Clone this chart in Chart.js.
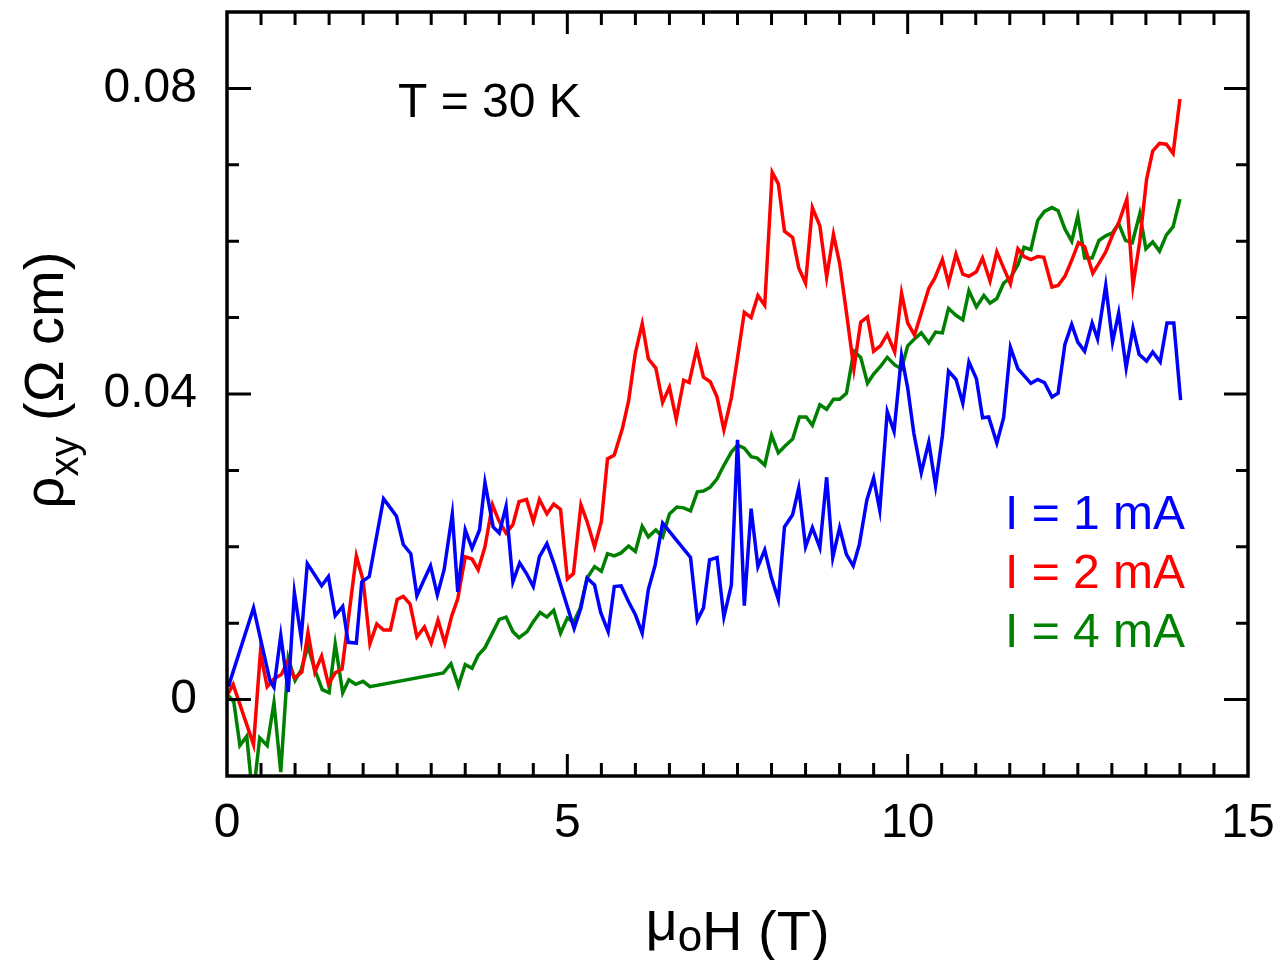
<!DOCTYPE html>
<html lang="es">
<head>
<meta charset="utf-8">
<title>rho_xy vs campo</title>
<script src="https://cdn.jsdelivr.net/npm/chart.js@4.4.1/dist/chart.umd.min.js"></script>
<style>
  html, body { margin: 0; padding: 0; background: #fff; }
  canvas { display: block; }
</style>
</head>
<body>
<canvas id="canvas" width="1281" height="960"></canvas>
<script>
// Campo (T) y resistividad Hall (Ohm cm) para cada corriente
const campo1mA = [0.02, 0.39, 0.63, 0.69, 0.79, 0.9, 0.99, 1.09, 1.18, 1.29, 1.39, 1.49, 1.59, 1.7, 1.78, 1.9, 1.98, 2.09, 2.18, 2.3,
  2.4, 2.49, 2.59, 2.7, 2.79, 2.89, 2.99, 3.09, 3.19, 3.31, 3.39, 3.5, 3.6, 3.71, 3.79, 3.91, 4.0, 4.1, 4.2, 4.3,
  4.4, 4.5, 4.59, 4.7, 4.8, 5.1, 5.2, 5.29, 5.4, 5.49, 5.6, 5.69, 5.79, 5.9, 6.0, 6.1, 6.19, 6.29, 6.4, 6.81,
  6.91, 7.0, 7.09, 7.2, 7.3, 7.41, 7.5, 7.6, 7.7, 7.8, 7.9, 8.0, 8.1, 8.19, 8.31, 8.4, 8.5, 8.6, 8.71, 8.81,
  8.9, 9.0, 9.1, 9.2, 9.29, 9.4, 9.5, 9.59, 9.7, 9.8, 9.91, 10.0, 10.09, 10.2, 10.31, 10.41, 10.51, 10.6, 10.71, 10.81,
  10.9, 11.01, 11.1, 11.19, 11.31, 11.41, 11.51, 11.62, 11.71, 11.81, 11.91, 12.01, 12.12, 12.21, 12.31, 12.41, 12.5, 12.6, 12.71, 12.79,
  12.91, 13.01, 13.1, 13.21, 13.31, 13.4, 13.51, 13.6, 13.71, 13.81, 13.91, 14.01];
const rho1mA = [0.0017, 0.012, 0.0025, 0.0016, 0.0084, 0.001, 0.014, 0.0081, 0.0178, 0.0163, 0.0149, 0.0161, 0.011, 0.0122, 0.0075, 0.0074, 0.0154, 0.0161, 0.0205, 0.0263,
  0.0251, 0.024, 0.0203, 0.0191, 0.0136, 0.0156, 0.0175, 0.0137, 0.017, 0.0243, 0.0141, 0.0222, 0.0198, 0.0222, 0.0284, 0.0226, 0.0218, 0.0253, 0.0154, 0.0179,
  0.0165, 0.0148, 0.0187, 0.0204, 0.0179, 0.0093, 0.012, 0.0159, 0.015, 0.0114, 0.0089, 0.0148, 0.0149, 0.0128, 0.0111, 0.0087, 0.0144, 0.0176, 0.0231, 0.0186,
  0.0104, 0.012, 0.0183, 0.0186, 0.0108, 0.015, 0.034, 0.0123, 0.025, 0.0174, 0.0196, 0.0159, 0.0131, 0.0226, 0.0242, 0.0277, 0.02, 0.0225, 0.0199, 0.0291,
  0.0186, 0.0225, 0.019, 0.0175, 0.0203, 0.0261, 0.029, 0.0248, 0.0377, 0.0351, 0.045, 0.0408, 0.0349, 0.0297, 0.0337, 0.028, 0.0345, 0.043, 0.0419, 0.0388,
  0.0442, 0.042, 0.0369, 0.037, 0.0336, 0.0369, 0.0461, 0.0433, 0.0424, 0.0414, 0.0419, 0.0415, 0.0396, 0.0401, 0.0465, 0.0491, 0.0468, 0.0456, 0.0493, 0.0472,
  0.0542, 0.0468, 0.0506, 0.0434, 0.0486, 0.0452, 0.0443, 0.0455, 0.0442, 0.0493, 0.0493, 0.0392];

const campo2mA = [0.0, 0.09, 0.39, 0.49, 0.59, 0.69, 0.8, 0.89, 0.99, 1.1, 1.19, 1.29, 1.39, 1.49, 1.59, 1.69, 1.9, 2.0, 2.1, 2.2,
  2.3, 2.4, 2.5, 2.59, 2.69, 2.79, 2.9, 3.0, 3.1, 3.2, 3.3, 3.39, 3.5, 3.6, 3.69, 3.79, 3.9, 3.99, 4.1, 4.2,
  4.29, 4.4, 4.5, 4.59, 4.7, 4.8, 4.9, 5.0, 5.09, 5.2, 5.29, 5.4, 5.5, 5.59, 5.69, 5.81, 5.9, 6.0, 6.1, 6.19,
  6.3, 6.4, 6.5, 6.6, 6.71, 6.79, 6.9, 7.0, 7.1, 7.2, 7.3, 7.41, 7.5, 7.6, 7.7, 7.8, 7.9, 8.01, 8.1, 8.19,
  8.31, 8.4, 8.5, 8.6, 8.71, 8.81, 8.91, 9.0, 9.1, 9.21, 9.31, 9.41, 9.5, 9.6, 9.7, 9.81, 9.91, 10.0, 10.1, 10.2,
  10.31, 10.4, 10.51, 10.6, 10.71, 10.81, 10.9, 11.01, 11.1, 11.21, 11.31, 11.41, 11.51, 11.62, 11.71, 11.81, 11.91, 12.0, 12.12, 12.21,
  12.31, 12.41, 12.51, 12.6, 12.72, 12.81, 12.91, 13.01, 13.1, 13.22, 13.31, 13.41, 13.51, 13.6, 13.7, 13.8, 13.9, 14.0];
const rho2mA = [0.0005, 0.002, -0.0059, 0.0061, 0.0017, 0.0027, 0.0033, 0.005, 0.0028, 0.0036, 0.0088, 0.0036, 0.0057, 0.002, 0.0035, 0.004, 0.0188, 0.0156, 0.0073, 0.0099,
  0.0091, 0.0091, 0.0131, 0.0135, 0.0125, 0.0082, 0.0095, 0.0074, 0.0104, 0.0074, 0.0109, 0.0132, 0.0187, 0.0184, 0.017, 0.02, 0.0255, 0.0235, 0.0218, 0.0229,
  0.0259, 0.0262, 0.0233, 0.0262, 0.0243, 0.0256, 0.0249, 0.0158, 0.0165, 0.0255, 0.0233, 0.02, 0.0233, 0.0315, 0.032, 0.0355, 0.0391, 0.0454, 0.0492, 0.0446,
  0.0434, 0.0389, 0.0409, 0.0367, 0.0418, 0.0415, 0.0459, 0.0422, 0.0416, 0.0396, 0.0353, 0.0395, 0.0447, 0.0507, 0.05, 0.0529, 0.0516, 0.069, 0.0675, 0.0613,
  0.0605, 0.0565, 0.0545, 0.0644, 0.062, 0.0553, 0.0609, 0.0571, 0.0507, 0.0433, 0.0494, 0.0501, 0.0456, 0.0463, 0.0478, 0.0455, 0.0532, 0.0493, 0.0477, 0.0506,
  0.0538, 0.0552, 0.0576, 0.0545, 0.0583, 0.0557, 0.0554, 0.056, 0.0578, 0.0548, 0.0586, 0.0565, 0.0544, 0.059, 0.058, 0.0576, 0.058, 0.0579, 0.054, 0.0542,
  0.0554, 0.0575, 0.0598, 0.0593, 0.0558, 0.0571, 0.0586, 0.0608, 0.0624, 0.0655, 0.0542, 0.06, 0.0681, 0.0718, 0.0728, 0.0727, 0.0715, 0.0786];

const campo4mA = [0.02, 0.1, 0.19, 0.29, 0.38, 0.48, 0.59, 0.69, 0.79, 0.9, 1.0, 1.09, 1.19, 1.29, 1.4, 1.5, 1.59, 1.7, 1.79, 1.89,
  2.0, 2.1, 3.18, 3.29, 3.4, 3.5, 3.6, 3.69, 3.79, 3.91, 4.0, 4.1, 4.2, 4.29, 4.41, 4.5, 4.6, 4.7, 4.8, 4.9,
  5.0, 5.09, 5.19, 5.29, 5.4, 5.5, 5.59, 5.69, 5.79, 5.9, 6.0, 6.1, 6.19, 6.3, 6.4, 6.5, 6.61, 6.71, 6.81, 6.91,
  7.0, 7.1, 7.2, 7.29, 7.41, 7.5, 7.6, 7.7, 7.79, 7.9, 8.0, 8.1, 8.21, 8.31, 8.41, 8.51, 8.6, 8.71, 8.81, 8.91,
  9.0, 9.1, 9.21, 9.31, 9.41, 9.5, 9.6, 9.7, 9.81, 9.91, 10.0, 10.1, 10.2, 10.31, 10.41, 10.51, 10.6, 10.71, 10.81, 10.9,
  11.01, 11.12, 11.21, 11.31, 11.41, 11.51, 11.62, 11.71, 11.81, 11.91, 12.01, 12.12, 12.21, 12.31, 12.41, 12.5, 12.6, 12.71, 12.81, 12.91,
  13.01, 13.1, 13.2, 13.3, 13.41, 13.5, 13.6, 13.7, 13.8, 13.9, 14.0];
const rho4mA = [0.0005, -0.0003, -0.006, -0.0048, -0.013, -0.005, -0.006, -0.0004, -0.0095, 0.0054, 0.0025, 0.0039, 0.007, 0.0039, 0.0013, 0.0009, 0.0073, 0.0009, 0.0026, 0.002,
  0.0024, 0.0017, 0.0035, 0.0047, 0.0018, 0.0046, 0.0041, 0.0058, 0.0068, 0.0089, 0.0105, 0.0108, 0.0089, 0.0081, 0.0089, 0.0102, 0.0114, 0.0108, 0.0117, 0.0087,
  0.0107, 0.0101, 0.012, 0.0159, 0.0174, 0.0168, 0.0191, 0.0188, 0.0192, 0.0201, 0.0194, 0.0227, 0.0213, 0.0222, 0.0213, 0.0243, 0.0252, 0.0251, 0.0247, 0.0272,
  0.0273, 0.0278, 0.0289, 0.0305, 0.0324, 0.0333, 0.0329, 0.0318, 0.0316, 0.0307, 0.0346, 0.0323, 0.0333, 0.0341, 0.037, 0.037, 0.0359, 0.0386, 0.038, 0.0393,
  0.0393, 0.0401, 0.0456, 0.0448, 0.0414, 0.0426, 0.0436, 0.0448, 0.0438, 0.0433, 0.0463, 0.0472, 0.048, 0.0467, 0.0481, 0.048, 0.0512, 0.0503, 0.0497, 0.0535,
  0.0514, 0.0529, 0.0519, 0.0525, 0.0545, 0.0552, 0.0569, 0.0592, 0.0589, 0.0627, 0.0639, 0.0644, 0.064, 0.0616, 0.06, 0.0633, 0.0578, 0.0578, 0.0601, 0.0607,
  0.0611, 0.0623, 0.0601, 0.0598, 0.0636, 0.059, 0.0599, 0.0587, 0.0608, 0.0619, 0.0655];

const etiquetas = ["I = 1 mA", "I = 2 mA", "I = 4 mA"];
const colores = ["#0000ff", "#ff0000", "#008000"];
const ticksX = [0, 5, 10, 15];
const ticksY = [0, 0.04, 0.08];
const anotacion = "T = 30 K";

const fuente = "'Liberation Sans', Arial, Helvetica, sans-serif";

// Junta los arrays de x e y en puntos {x, y}
const toPoints = (xs, ys) => xs.map((x, i) => ({ x: x, y: ys[i] }));

const series = [
  toPoints(campo1mA, rho1mA),
  toPoints(campo2mA, rho2mA),
  toPoints(campo4mA, rho4mA),
];

// Marco, marcas hacia dentro, titulos con subindices, anotacion y leyenda
const decoraciones = {
  id: "decoraciones",
  afterDraw(chart) {
    const { ctx, chartArea: a, scales } = chart;
    const sx = scales.x;
    const sy = scales.y;
    ctx.save();
    ctx.strokeStyle = "#000";
    ctx.lineWidth = 3.5;
    ctx.strokeRect(a.left, a.top, a.right - a.left, a.bottom - a.top);

    // marcas en x cada 0.5 T (largas en 5 y 10)
    ctx.lineWidth = 3;
    ctx.beginPath();
    for (let i = 1; i < 30; i++) {
      const px = sx.getPixelForValue(i * 0.5);
      const len = i % 10 === 0 ? 22 : 13;
      ctx.moveTo(px, a.bottom);
      ctx.lineTo(px, a.bottom - len);
      ctx.moveTo(px, a.top);
      ctx.lineTo(px, a.top + len);
    }
    // marcas en y cada 0.01 (largas en las etiquetas)
    for (let i = 0; i <= 8; i++) {
      const v = i * 0.01;
      const py = sy.getPixelForValue(v);
      const len = i % 4 === 0 ? 24 : 12;
      ctx.moveTo(a.left, py);
      ctx.lineTo(a.left + len, py);
      ctx.moveTo(a.right, py);
      ctx.lineTo(a.right - len, py);
    }
    ctx.stroke();

    ctx.fillStyle = "#000";
    ctx.textBaseline = "alphabetic";
    ctx.textAlign = "left";

    // titulo eje x: mu_o H (T)
    const grande = "56px " + fuente;
    const sub = "44px " + fuente;
    ctx.font = grande;
    const wMu = ctx.measureText("\u03BC").width;
    const wH = ctx.measureText("H (T)").width;
    ctx.font = sub;
    const wO = ctx.measureText("o").width;
    let x0 = (a.left + a.right) / 2 - (wMu + wO + wH) / 2;
    ctx.font = grande;
    ctx.fillText("\u03BC", x0, 940);
    ctx.font = sub;
    ctx.fillText("o", x0 + wMu, 951);
    ctx.font = grande;
    ctx.fillText("H (T)", x0 + wMu + wO, 950);

    // titulo eje y: rho_xy (Omega cm), girado
    ctx.save();
    ctx.font = grande;
    const wRho = ctx.measureText("\u03C1").width;
    const wResto = ctx.measureText(" (\u03A9 cm)").width;
    ctx.font = "40px " + fuente;
    const wXY = ctx.measureText("xy").width;
    const total = wRho + wXY + wResto;
    ctx.translate(63, 380 + total / 2);
    ctx.rotate(-Math.PI / 2);
    ctx.font = grande;
    ctx.fillText("\u03C1", 0, 0);
    ctx.font = "40px " + fuente;
    ctx.fillText("xy", wRho, 15);
    ctx.font = grande;
    ctx.fillText(" (\u03A9 cm)", wRho + wXY, 0);
    ctx.restore();

    // anotacion de temperatura
    ctx.font = "48px " + fuente;
    ctx.fillText(anotacion, 398, 117);

    // leyenda de texto coloreado
    chart.data.datasets.forEach((ds, i) => {
      ctx.fillStyle = ds.borderColor;
      ctx.fillText(ds.label, 1005, 529 + i * 59);
    });
    ctx.restore();
  },
};

new Chart(document.getElementById("canvas"), {
  type: "line",
  data: {
    datasets: series.map((pts, i) => ({
      label: etiquetas[i],
      data: pts,
      borderColor: colores[i],
      backgroundColor: colores[i],
      borderWidth: 3.5,
      pointRadius: 0,
      tension: 0,
      fill: false,
    })),
  },
  options: {
    responsive: false,
    animation: false,
    devicePixelRatio: 1,
    layout: { padding: { top: 12, right: 33, bottom: 0, left: 0 } },
    plugins: { legend: { display: false }, tooltip: { enabled: false } },
    scales: {
      x: {
        type: "linear",
        min: 0,
        max: 15,
        grid: { display: false, drawTicks: false },
        border: { display: false },
        afterBuildTicks: (s) => { s.ticks = ticksX.map((v) => ({ value: v })); },
        afterFit: (s) => {
          s.height = 184;
          s.paddingLeft = 0;
          s.paddingRight = 0;
        },
        ticks: {
          color: "#000",
          font: { size: 48, family: fuente },
          padding: 19,
          maxRotation: 0,
          autoSkip: false,
          callback: (v) => String(v),
        },
      },
      y: {
        type: "linear",
        min: -0.01,
        max: 0.09,
        grid: { display: false, drawTicks: false },
        border: { display: false },
        afterBuildTicks: (s) => { s.ticks = ticksY.map((v) => ({ value: v })); },
        afterFit: (s) => {
          s.width = 227;
          s.paddingTop = 0;
          s.paddingBottom = 0;
        },
        ticks: {
          color: "#000",
          font: { size: 48, family: fuente },
          padding: 30,
          autoSkip: false,
          callback: (v) => (v === 0 ? "0" : v.toFixed(2)),
        },
      },
    },
  },
  plugins: [decoraciones],
});
</script>
</body>
</html>
